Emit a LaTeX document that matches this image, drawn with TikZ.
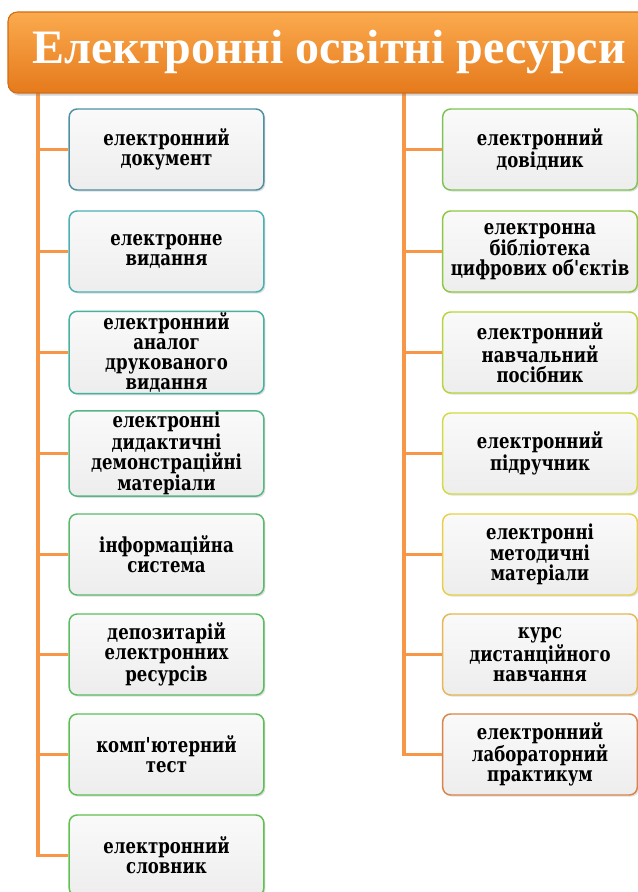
\documentclass[tikz,border=0pt]{standalone}
\usepackage{fontspec}
\setmainfont{Liberation Serif}
\newfontfamily\boxfont[FakeStretch=0.8]{DejaVu Serif}
\usetikzlibrary{shadows}
\definecolor{trunkorange}{HTML}{F79646}
\definecolor{headtop}{HTML}{FBAA4E}
\definecolor{headbottom}{HTML}{E57A1C}
\definecolor{headline}{HTML}{D06E18}
\definecolor{cA}{HTML}{4E8FA2}
\definecolor{cB}{HTML}{4BAFB4}
\definecolor{cC}{HTML}{47B19C}
\definecolor{cD}{HTML}{55B686}
\definecolor{cE}{HTML}{5BB86C}
\definecolor{cF}{HTML}{5CBC60}
\definecolor{cG}{HTML}{5DBE56}
\definecolor{cH}{HTML}{62C050}
\definecolor{cI}{HTML}{7DC454}
\definecolor{cJ}{HTML}{8EC842}
\definecolor{cK}{HTML}{B6D43E}
\definecolor{cL}{HTML}{D3DA44}
\definecolor{cM}{HTML}{E8CF4A}
\definecolor{cN}{HTML}{E7B655}
\definecolor{cO}{HTML}{D8844A}

\begin{document}
\begin{tikzpicture}[x=0.75pt,y=-0.75pt,
		item/.style={draw,rounded corners=6pt,line width=1.1pt,top color=black!2,bottom color=black!7,
			minimum width=146pt,minimum height=60.75pt,align=center,inner sep=1pt,
			font=\boxfont\bfseries\fontsize{15.5}{15}\selectfont,
			drop shadow={opacity=0.25,shadow xshift=1.2pt,shadow yshift=-1.2pt}},
		head/.style={draw=headline,line width=0.8pt,rounded corners=7pt,top color=headtop,bottom color=headbottom,
			minimum width=481.5pt,minimum height=60.75pt,text=white,
			font=\bfseries\fontsize{36}{38}\selectfont,
			drop shadow={opacity=0.35,shadow xshift=1.5pt,shadow yshift=-2pt}},
		branch/.style={trunkorange,line width=2.8pt}]
			\useasboundingbox (0,0) rectangle (638,892);
			\clip (0,0) rectangle (638,892);
			\coordinate (ltop) at (38,93);
			\coordinate (rtop) at (404,93);
			\node [item,draw=cA] (l1) at (166.5,149.5) {електронний\\документ};
			\node [item,draw=cB] (l2) at (166.5,251.5) {електронне\\видання};
			\node [item,draw=cC] (l3) at (166.5,352.5) {електронний\\аналог\\друкованого\\видання};
			\node [item,draw=cD] (l4) at (166.5,453.5) {електронні\\дидактичні\\демонстраційні\\матеріали};
			\node [item,draw=cE] (l5) at (166.5,554.5) {інформаційна\\система};
			\node [item,draw=cF] (l6) at (166.5,654.5) {депозитарій\\електронних\\ресурсів};
			\node [item,draw=cG] (l7) at (166.5,754.5) {комп'ютерний\\тест};
			\node [item,draw=cH] (l8) at (166.5,855.5) {електронний\\словник};
			\node [item,draw=cI] (r1) at (540,149.5) {електронний\\довідник};
			\node [item,draw=cJ] (r2) at (540,251.5) {електронна\\бібліотека\\цифрових об'єктів};
			\node [item,draw=cK] (r3) at (540,352.5) {електронний\\навчальний\\посібник};
			\node [item,draw=cL] (r4) at (540,453.5) {електронний\\підручник};
			\node [item,draw=cM] (r5) at (540,554.5) {електронні\\методичні\\матеріали};
			\node [item,draw=cN] (r6) at (540,654.5) {курс\\дистанційного\\навчання};
			\node [item,draw=cO] (r7) at (540,754.5) {електронний\\лабораторний\\практикум};
			\draw [branch] (ltop) |- (l8.west);
			\draw [branch] (rtop) |- (r7.west);
			\draw [branch] (l1.west) -- (l1.west -| ltop);
			\draw [branch] (l2.west) -- (l2.west -| ltop);
			\draw [branch] (l3.west) -- (l3.west -| ltop);
			\draw [branch] (l4.west) -- (l4.west -| ltop);
			\draw [branch] (l5.west) -- (l5.west -| ltop);
			\draw [branch] (l6.west) -- (l6.west -| ltop);
			\draw [branch] (l7.west) -- (l7.west -| ltop);
			\draw [branch] (r1.west) -- (r1.west -| rtop);
			\draw [branch] (r2.west) -- (r2.west -| rtop);
			\draw [branch] (r3.west) -- (r3.west -| rtop);
			\draw [branch] (r4.west) -- (r4.west -| rtop);
			\draw [branch] (r5.west) -- (r5.west -| rtop);
			\draw [branch] (r6.west) -- (r6.west -| rtop);
			\node [head] (title) at (329,52.5) {Електронні освітні ресурси};
\end{tikzpicture}
\end{document}
